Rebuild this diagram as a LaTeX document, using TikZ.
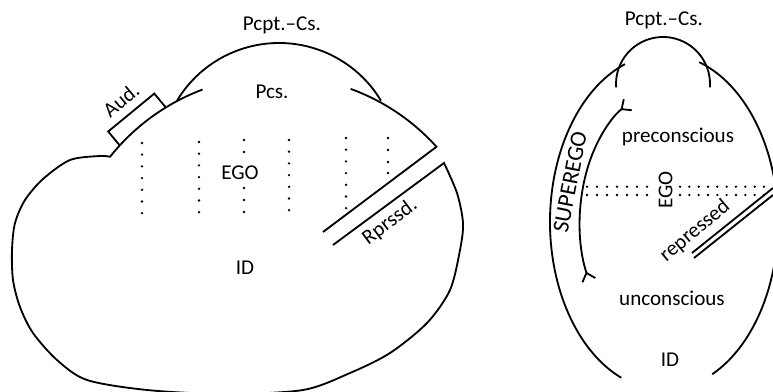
\documentclass[tikz,border=0pt]{standalone}
\usepackage{fontspec}
\setmainfont{Carlito}
\usetikzlibrary{arrows.meta}

\begin{document}
\begin{tikzpicture}[x=0.25mm, y=0.25mm, line width=1.3pt,
    >={Straight Barb[reversed, length=1.9mm, width=3.4mm]},
    lbl/.style={font=\fontsize{15}{17}\selectfont, inner sep=1pt}]
    \useasboundingbox (0,0) rectangle (773,391);

    % 1. Left figure: the outline
    \draw (277.5,101) ++(110.5:214) arc (110.5:141.5:214)
        -- plot[smooth] coordinates {(110,234.2) (100,235) (70,231) (43,212)
            (25,191) (15,168) (12,141) (13,111) (20,84) (33,58) (57,31)
            (87,11) (147,1) (225,-3) (303,1) (350,18) (390,38) (427,68)
            (450,101) (460,141) (463,168) (457,198) (444,228)}
        -- (333,146);
    \draw (323,159) -- (436.5,244.2) arc (42:70:214);
    \draw (279,229) ++(149:119) arc (149:31:119);
    \draw (119.7,245.6) -- (108.2,259.5) -- (154.3,297.4) -- (165.8,283.5);

    % 2. Left figure: dotted columns
    \foreach \x/\top in {142/248, 199/249, 289/251, 346/253}
        \foreach \k in {0,...,6}
            \fill (\x,\top-11.7*\k) circle (1.3);
    \foreach \y in {251,239,203,191,179}
        \fill (244,\y) circle (1.3);
    \foreach \y in {253,241,229,218}
        \fill (388,\y) circle (1.3);

    % 3. Left figure: labels
    \node[lbl] (pcptL) at (282,366) {Pcpt.--Cs.};
    \node[lbl] (pcsL) at (272,299) {Pcs.};
    \node[lbl, rotate=40] (aud) at (121,291) {Aud.};
    \node[lbl] (egoL) at (240,218) {EGO};
    \node[lbl] (idL) at (245,123) {ID};
    \node[lbl, rotate=37] (rprssd) at (390,169) {Rprssd.};

    % 4. Right figure: the egg and the dome
    \draw (664,169) ++(110:114 and 168)
        arc[start angle=110, end angle=248, x radius=114, y radius=168];
    \draw (664,169) ++(295:114 and 168)
        arc[start angle=295, end angle=432, x radius=114, y radius=168];
    \draw (663,307) ++(184:47) arc (184:-4:47);
    \draw[<->] (664,169) ++(207:84 and 130)
        arc[start angle=207, end angle=115, x radius=84, y radius=130];
    \draw (692,138) -- (773,203);
    \draw (694,133) -- (773,196);

    % 5. Right figure: dotted rows
    \foreach \y in {204.3,196} {
        \foreach \k in {0,...,6}
            \fill (587+10*\k,\y) circle (1.3);
        \foreach \k in {0,...,9}
            \fill (680+9.33*\k,\y) circle (1.3);
    }

    % 6. Right figure: labels
    \node[lbl] (pcptR) at (664,371) {Pcpt.--Cs.};
    \node[lbl] (precons) at (678,254) {preconscious};
    \node[lbl, rotate=90] (egoR) at (665.5,201) {EGO};
    \node[lbl, rotate=79, font=\fontsize{16.5}{18}\selectfont] (superego)
        at (570,209) {SUPEREGO};
    \node[lbl, rotate=40] (repressed) at (695,160) {repressed};
    \node[lbl] (uncons) at (672,93) {unconscious};
    \node[lbl] (idR) at (670,31) {ID};
\end{tikzpicture}
\end{document}
